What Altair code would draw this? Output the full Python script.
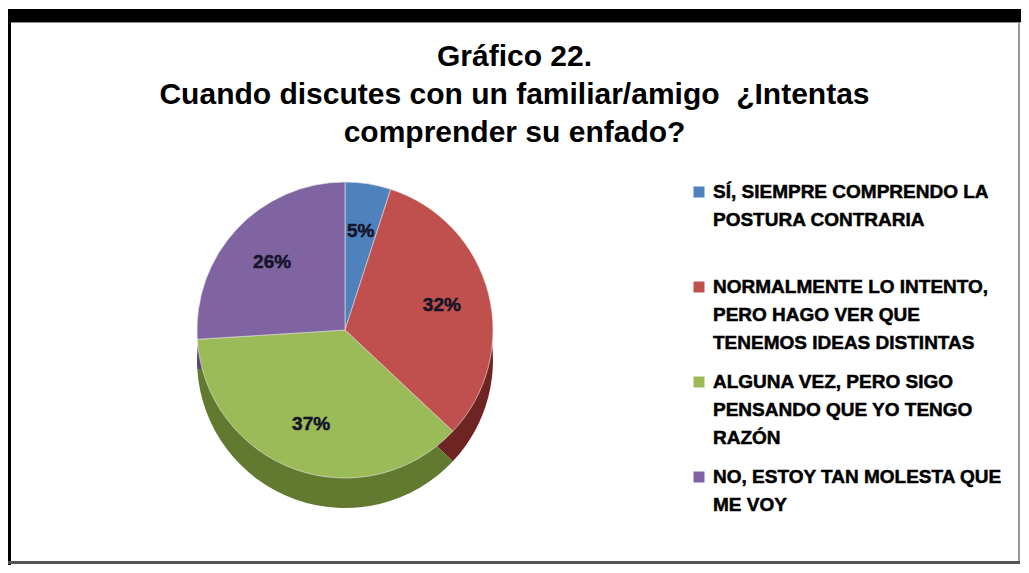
import altair as alt
import pandas as pd

categories = [
    "SÍ, SIEMPRE COMPRENDO LA POSTURA CONTRARIA",
    "NORMALMENTE LO INTENTO, PERO HAGO VER QUE TENEMOS IDEAS DISTINTAS",
    "ALGUNA VEZ, PERO SIGO PENSANDO QUE YO TENGO RAZÓN",
    "NO, ESTOY TAN MOLESTA QUE ME VOY",
]
legend_text = [
    "SÍ, SIEMPRE COMPRENDO LA|POSTURA CONTRARIA",
    "NORMALMENTE LO INTENTO,|PERO HAGO VER QUE|TENEMOS IDEAS DISTINTAS",
    "ALGUNA VEZ, PERO SIGO|PENSANDO QUE YO TENGO|RAZÓN",
    "NO, ESTOY TAN MOLESTA QUE|ME VOY",
]
values = [5, 32, 37, 26]
labels = ["5%", "32%", "37%", "26%"]
order = [0, 1, 2, 3]
top_colors = ["#4f81bd", "#c0504d", "#9bbb59", "#8064a2"]
side_colors = ["#3b6190", "#6e2422", "#617a30", "#5b4577"]

title_lines = [
    "Gráfico 22.",
    "Cuando discutes con un familiar/amigo \u00a0¿Intentas",
    "comprender su enfado?",
]

df = pd.DataFrame({
    "cat": categories,
    "legend": legend_text,
    "value": values,
    "label": labels,
    "order": order,
    "top": top_colors,
    "side": side_colors,
})

W, H = 1013, 380
PT, PB = 150, 27
CX, CY, R, DEPTH = 337, 172, 148, 30
FONT = "Liberation Sans"

base = alt.Chart(df)
theta = alt.Theta("value:Q", stack=True)
ordr = alt.Order("order:Q")

side = base.mark_arc(radius=R).encode(
    theta=theta, order=ordr,
    color=alt.Color("side:N", scale=None, legend=None),
    x=alt.value(CX), y=alt.value(CY + DEPTH),
)
top = base.mark_arc(radius=R, stroke="#e8e8e8", strokeWidth=0.6).encode(
    theta=theta, order=ordr,
    color=alt.Color("top:N", scale=None, legend=None),
    x=alt.value(CX), y=alt.value(CY),
)
pct = base.mark_text(radius=100, font=FONT, fontSize=19, fontWeight="bold",
                     color="#141428", stroke="#141428", strokeWidth=0.5).encode(
    theta=theta, order=ordr, text="label:N",
    x=alt.value(CX), y=alt.value(CY),
)

ypos = alt.Y("cat:N", sort=categories, axis=None,
             scale=alt.Scale(domain=categories, paddingInner=0, paddingOuter=0))

leg_sq = base.mark_square(size=121, filled=True, opacity=1, yOffset=-13.5).encode(
    x=alt.value(691), y=ypos,
    color=alt.Color("top:N", scale=None, legend=None),
)
leg_tx = base.mark_text(align="left", baseline="top", lineBreak="|", lineHeight=28,
                        font=FONT, fontSize=19, fontWeight="bold", color="black",
                        stroke="black", strokeWidth=0.5, dy=-22.5).encode(
    x=alt.value(705), y=ypos, text="legend:N",
)

frame_df = pd.DataFrame({"k": [0]})
fb = alt.Chart(frame_df)
top_band = fb.mark_rect(color="black").encode(
    x=alt.value(-8), x2=alt.value(W), y=alt.value(-149), y2=alt.value(-136))
top_line = fb.mark_rect(color="#8a8a8a").encode(
    x=alt.value(3), x2=alt.value(W), y=alt.value(-136), y2=alt.value(-135))
left_band = fb.mark_rect(color="black").encode(
    x=alt.value(-8), x2=alt.value(3), y=alt.value(-149), y2=alt.value(H + PB))
right_line = fb.mark_rect(color="#9a9a9a").encode(
    x=alt.value(W - 3), x2=alt.value(W - 1), y=alt.value(-136), y2=alt.value(H + PB - 3))
bottom_line = fb.mark_rect(color="#555555").encode(
    x=alt.value(0), x2=alt.value(W - 1), y=alt.value(H + PB - 4), y2=alt.value(H + PB - 1))

chart = alt.layer(
    side, top, pct, leg_sq, leg_tx,
    top_band, top_line, left_band, right_line, bottom_line,
).resolve_scale(color="independent").properties(
    width=W, height=H,
    autosize=alt.AutoSizeParams(type="none"),
    padding={"left": 0, "top": PT, "right": 0, "bottom": PB},
    background="white",
    title=alt.TitleParams(
        text=title_lines, font=FONT, fontSize=30, fontWeight="bold",
        lineHeight=38, anchor="middle", baseline="bottom", offset=6, dy=175,
        color="black",
    ),
).configure_view(stroke=None)

chart.save("out.html", embed_options={"renderer": "svg", "actions": False})
